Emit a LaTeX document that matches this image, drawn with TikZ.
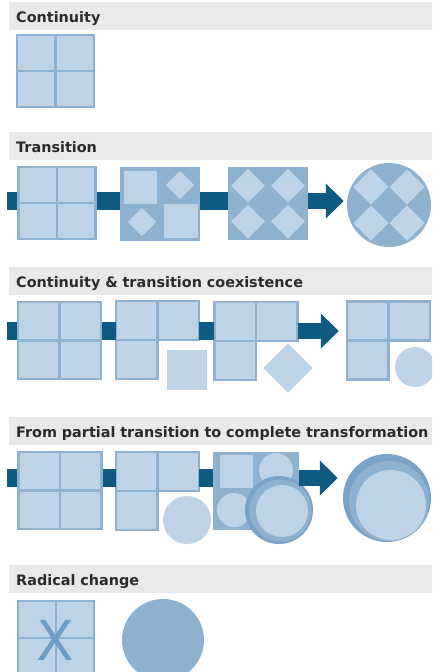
\documentclass[tikz,border=0pt]{standalone}
\usepackage{fontspec}
\setmainfont{DejaVu Sans}
\usepackage{tikz}
\usetikzlibrary{arrows.meta,positioning,calc}
\definecolor{paleblue}{HTML}{BFD3E6}
\definecolor{midblue} {HTML}{8FB1D0}
\definecolor{ringblue}{HTML}{7AA2C7}
\definecolor{navy}    {HTML}{0D5A83}
\definecolor{barfill} {HTML}{E9E9E9}
\definecolor{ink}     {HTML}{2B2B2B}
\definecolor{xblue}   {HTML}{6E9CC5}
\tikzset{
  headbar/.style={fill=barfill,anchor=north west,inner xsep=7pt,inner ysep=8pt,
    text width=416pt,align=left,text height=12pt,text depth=0pt,
    text=ink,font=\fontsize{14.4}{16}\selectfont\bfseries},
  gridsq/.style={draw=midblue,fill=paleblue,line width=2.5pt,inner sep=0pt},
  small/.style={minimum width=77pt,minimum height=72pt},
  large/.style={minimum width=83pt,minimum height=77pt},
  lframe/.style={inner sep=0pt,minimum width=83pt,minimum height=78pt},
  lshape/.style={draw=midblue,fill=paleblue,line width=2.5pt},
  darksq/.style={fill=midblue,inner sep=0pt},
  tile/.style={fill=paleblue,inner sep=0pt,minimum size=#1},
  gem/.style={fill=paleblue,inner sep=0pt,rotate=45,minimum size=#1},
  disc/.style={circle,fill=#1,inner sep=0pt},
  link/.style={draw=navy,line width=18pt},
  bigarrow/.style={draw=navy,line width=16pt,-{Triangle[length=18pt,width=34pt]}}
}
\begin{document}
\begin{tikzpicture}[x=1pt,y=-1pt]
  \clip (0,0) rectangle (432,672);
  % headings
  \node[headbar] (hd1) at (9,2)   {Continuity};
  \node[headbar] (hd2) at (9,132) {Transition};
  \node[headbar] (hd3) at (9,267) {Continuity \& transition coexistence};
  \node[headbar] (hd4) at (9,417) {From partial transition to complete transformation};
  \node[headbar] (hd5) at (9,565) {Radical change};

  % continuity
  \node[gridsq,small] (co1) at (55.5,71) {};

  % transition
  \coordinate (in2) at (7,201);
  \node[gridsq,small] (tr1) at (57,203) {};
  \node[darksq,minimum width=80pt,minimum height=74pt] (tr2) at (160,203.5) {};
  \node[tile=33pt] (tr2a) at ($(tr2.center)+(-19.5,-16.5)$) {};
  \node[tile=34pt] (tr2b) at ($(tr2.center)+(20.5,17.5)$) {};
  \node[gem=20pt]  (tr2c) at ($(tr2.center)+(20,-18.5)$) {};
  \node[gem=20pt]  (tr2d) at ($(tr2.center)+(-18,18.5)$) {};
  \node[darksq,minimum width=80pt,minimum height=73pt] (tr3) at (268,203.5) {};
  \foreach \dx/\dy [count=\i] in {-20/-18,20/-18,-20/18,20/18}
    \node[gem=24pt] (tr3\i) at ($(tr3.center)+(\dx,\dy)$) {};
  \node[disc=midblue,minimum size=84pt] (tr4) at (389,205) {};
  \begin{scope}
    \clip (tr4.center) circle (42pt);
    \foreach \dx/\dy [count=\i] in {-18/-18,18/-18,-18/18,18/18}
      \node[gem=25pt] (tr4\i) at ($(tr4.center)+(\dx,\dy)$) {};
  \end{scope}
  \draw[link] (in2) -- (tr1.west |- in2);
  \draw[link] (tr1.east |- in2) -- (tr2.west |- in2);
  \draw[link] (tr2.east |- in2) -- (tr3.west |- in2);
  \draw[bigarrow,shorten >=3pt] (tr3.east |- in2) -- (tr4.west |- in2);

  % continuity & transition coexistence
  \coordinate (in3) at (7,331);
  \node[gridsq,large] (cx1) at (59.5,340.5) {};
  \node[lframe] (cx2) at (157.5,340) {};
  \node[lframe] (cx3) at (256,341) {};
  \node[lframe] (cx4) at (388.5,340.5) {};
  \foreach \f in {cx2,cx3,cx4} {
    \draw[lshape] (\f.north west) -- (\f.north east) -- (\f.east) -- (\f.center)
      -- (\f.south) -- (\f.south west) -- cycle;
    \draw[midblue,line width=2.5pt] (\f.north) -- (\f.center) -- (\f.west);
  }
  \node[tile=40pt] (cx2a) at (187,370) {};
  \node[gem=35pt]  (cx3a) at (288,368) {};
  \node[disc=paleblue,minimum size=40pt] (cx4a) at (415,367) {};
  \draw[link] (in3) -- (cx1.west |- in3);
  \draw[link] (cx1.east |- in3) -- (cx2.west |- in3);
  \draw[link] (cx2.east |- in3) -- (cx3.west |- in3);
  \draw[bigarrow,shorten >=8pt] (cx3.east |- in3) -- (cx4.west |- in3);

  % from partial transition to complete transformation
  \coordinate (in4) at (7,478);
  \node[gridsq,large] (pt1) at (60,490.5) {};
  \node[lframe] (pt2) at (157.5,491) {};
  \draw[lshape] (pt2.north west) -- (pt2.north east) -- (pt2.east) -- (pt2.center)
    -- (pt2.south) -- (pt2.south west) -- cycle;
  \draw[midblue,line width=2.5pt] (pt2.north) -- (pt2.center) -- (pt2.west);
  \node[disc=paleblue,minimum size=48pt] (pt2a) at (187,520) {};
  \node[darksq,minimum width=86pt,minimum height=78pt] (pt3) at (256,491) {};
  \node[tile=33pt] (pt3a) at (236,471) {};
  \node[disc=paleblue,minimum size=34pt] (pt3b) at (276,470) {};
  \node[disc=paleblue,minimum size=34pt] (pt3c) at (234,510) {};
  \node[disc=ringblue,minimum size=68pt] (pt3d) at (279,510) {};
  \node[disc=midblue,minimum size=62pt]  (pt3e) at (280.5,510.5) {};
  \node[disc=paleblue,minimum size=52pt] (pt3f) at (282,511) {};
  \node[disc=ringblue,minimum size=88pt] (pt4) at (387,498) {};
  \node[disc=midblue,minimum size=80pt]  (pt4a) at (389,501) {};
  \node[disc=paleblue,minimum size=70pt] (pt4b) at (391,505) {};
  \draw[link] (in4) -- (pt1.west |- in4);
  \draw[link] (pt1.east |- in4) -- (pt2.west |- in4);
  \draw[link] (pt2.east |- in4) -- (pt3.west |- in4);
  \draw[bigarrow,shorten >=5pt] (pt3.east |- in4) -- (pt4.west |- in4);

  % radical change
  \node[gridsq,minimum width=76pt,minimum height=74pt] (rc1) at (56,638) {};

  \foreach \g in {co1,tr1,cx1,pt1,rc1}
    \draw[midblue,line width=2.5pt] (\g.north) -- (\g.south) (\g.west) -- (\g.east);

  \node[text=xblue,inner sep=0pt,font=\fontsize{55}{55}\selectfont] (rcx) at (55,640) {X};
  \node[disc=midblue,minimum size=82pt] (rc2) at (163,640) {};
\end{tikzpicture}
\end{document}
